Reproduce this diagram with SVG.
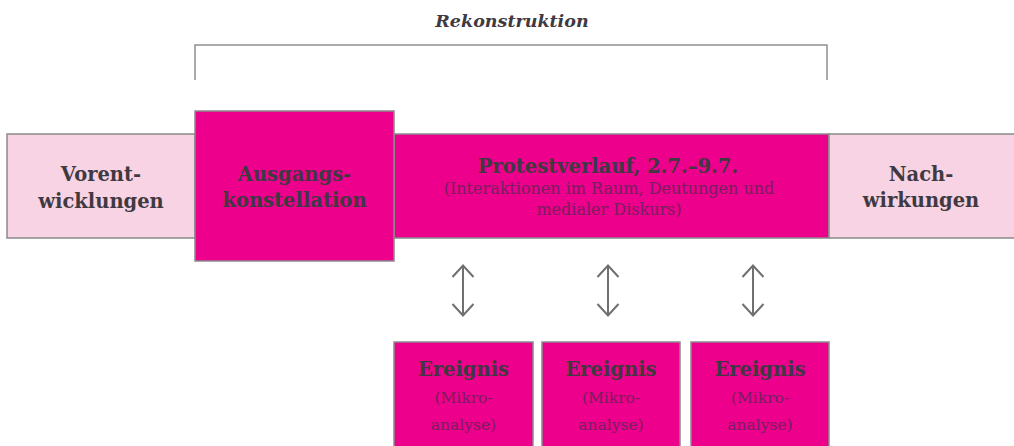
<svg xmlns="http://www.w3.org/2000/svg" width="1014" height="446" viewBox="0 0 1014 446">
<defs>
<style>
.box{stroke:#8a8a8a;stroke-width:1.5}
.dark{fill:#EC008C}
.light{fill:#F8D3E3}
.t{font-family:"DejaVu Serif","Liberation Serif",serif;font-weight:bold;font-size:19.5px;fill:#3f3a42;text-anchor:middle}
.s{font-family:"DejaVu Serif","Liberation Serif",serif;font-size:16px;fill:#7a1f5e;text-anchor:middle}
.m{font-family:"DejaVu Serif","Liberation Serif",serif;font-size:15.5px;fill:#7a1f5e;text-anchor:middle}
.conn{fill:none;stroke:#707070;stroke-width:2}
</style>
</defs>
<rect width="1014" height="446" fill="#fff"/>
<g id="bracket">
<text x="512" y="27" style="font-family:'DejaVu Serif','Liberation Serif',serif;font-weight:bold;font-style:italic;font-size:17.5px;fill:#3f3a42;text-anchor:middle">Rekonstruktion</text>
<path d="M195,80 V45 H827 V80" fill="none" stroke="#8f8f8f" stroke-width="1.5"/>
</g>
<g id="vorentwicklungen">
<rect class="box light" x="7" y="134" width="188" height="104"/>
<text class="t" x="101" y="181">Vorent-</text>
<text class="t" x="101" y="208">wicklungen</text>
</g>
<g id="protestverlauf">
<rect class="box dark" x="394" y="134" width="435" height="104"/>
<text class="t" x="608" y="173">Protestverlauf, 2.7.–9.7.</text>
<text class="s" x="609" y="194">(Interaktionen im Raum, Deutungen und</text>
<text class="s" x="609" y="215">medialer Diskurs)</text>
</g>
<g id="ausgangskonstellation">
<rect class="box dark" x="195" y="111" width="199" height="150"/>
<text class="t" x="294.5" y="181">Ausgangs-</text>
<text class="t" x="294.5" y="207">konstellation</text>
</g>
<g id="nachwirkungen">
<rect class="box light" x="829" y="134" width="186" height="104"/>
<text class="t" x="921" y="181">Nach-</text>
<text class="t" x="921" y="207">wirkungen</text>
</g>
<g id="ereignis1">
<rect class="box dark" x="394" y="342" width="139" height="110"/>
<text class="t" x="463.5" y="376">Ereignis</text>
<text class="m" x="463.5" y="403">(Mikro-</text>
<text class="m" x="463.5" y="430">analyse)</text>
</g>
<g id="ereignis2">
<rect class="box dark" x="542" y="342" width="138" height="110"/>
<text class="t" x="611" y="376">Ereignis</text>
<text class="m" x="611" y="403">(Mikro-</text>
<text class="m" x="611" y="430">analyse)</text>
</g>
<g id="ereignis3">
<rect class="box dark" x="691" y="342" width="138" height="110"/>
<text class="t" x="760" y="376">Ereignis</text>
<text class="m" x="760" y="403">(Mikro-</text>
<text class="m" x="760" y="430">analyse)</text>
</g>
<g id="connectors">
<path class="conn" d="M463,265 V316 M452.5,277 L463,265.5 L473.5,277 M452.5,304 L463,315.5 L473.5,304"/>
<path class="conn" d="M608,265 V316 M597.5,277 L608,265.5 L618.5,277 M597.5,304 L608,315.5 L618.5,304"/>
<path class="conn" d="M753,265 V316 M742.5,277 L753,265.5 L763.5,277 M742.5,304 L753,315.5 L763.5,304"/>
</g>
</svg>
